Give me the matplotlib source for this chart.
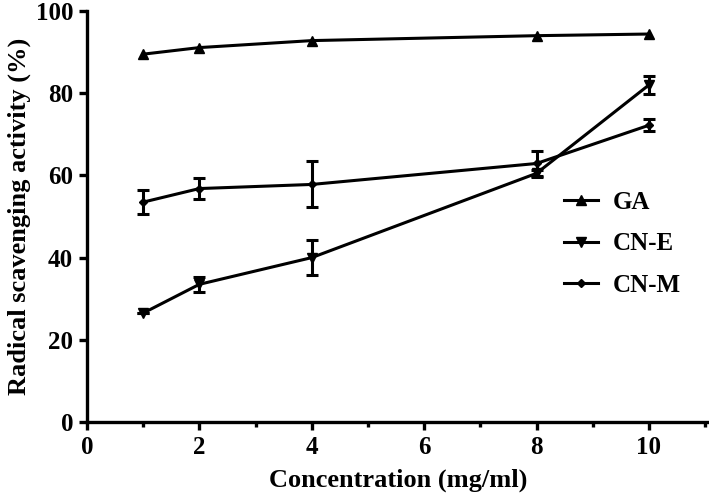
import matplotlib
matplotlib.use("Agg")
import matplotlib.pyplot as plt
from matplotlib.ticker import MultipleLocator

# ====== 資料 ======
conc = [1, 2, 4, 8, 10]

ga = [89.5, 91.1, 92.8, 94.0, 94.4]

cn_e = [26.5, 33.5, 40.0, 60.5, 82.0]
cn_e_err = [0.0, 1.8, 4.3, 0.8, 2.2]

cn_m = [53.5, 56.8, 57.8, 62.9, 72.2]
cn_m_err = [3.0, 2.5, 5.6, 3.0, 1.5]

# ====== 字型 ======
plt.rcParams["font.family"] = ["Liberation Serif", "DejaVu Serif"]
plt.rcParams["font.weight"] = "bold"

# ====== 畫圖 ======
fig = plt.figure(figsize=(7.09, 4.96), dpi=100)
ax = fig.add_axes([0.1227, 0.1492, 0.8773, 0.8286])

lw = 2.2
err_kw = dict(fmt="none", ecolor="black", capsize=4, capthick=2.2, elinewidth=2.2)

ax.plot(conc, ga, color="black", lw=lw, marker="^", ms=7, label="GA")
ax.plot(conc, cn_e, color="black", lw=lw, marker="v", ms=7, label="CN-E")
ax.errorbar(conc, cn_e, yerr=cn_e_err, **err_kw)
ax.plot(conc, cn_m, color="black", lw=lw, marker="D", ms=4, label="CN-M")
ax.errorbar(conc, cn_m, yerr=cn_m_err, **err_kw)

ax.set_xlim(0, 11.07)
ax.set_ylim(0, 100)
ax.xaxis.set_major_locator(MultipleLocator(2))
ax.xaxis.set_minor_locator(MultipleLocator(1))
ax.yaxis.set_major_locator(MultipleLocator(20))

for side in ["top", "right"]:
    ax.spines[side].set_visible(False)
for side in ["left", "bottom"]:
    ax.spines[side].set_linewidth(2.4)

ax.tick_params(axis="both", which="major", direction="out", length=6, width=2.4,
               labelsize=18, pad=4)
ax.tick_params(axis="x", which="minor", direction="out", length=3.5, width=2.4)

ax.set_xlabel("Concentration (mg/ml)", fontsize=19, fontweight="bold", labelpad=7)
ax.set_ylabel("Radical scavenging activity (%)", fontsize=19, fontweight="bold", labelpad=3)

ax.legend(loc="upper left", bbox_to_anchor=(0.751, 0.587), borderaxespad=0,
          frameon=False, fontsize=18, handlelength=1.35, handletextpad=0.6,
          labelspacing=0.75)

# ====== 存圖 ======
plt.savefig("out.png", dpi=100)
plt.close()
